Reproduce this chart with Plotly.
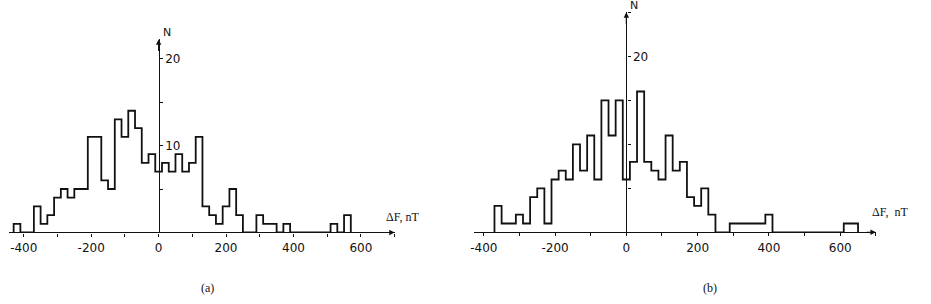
import plotly.graph_objects as go

# ---------------- data ----------------
bin_width = 20  # nT

# panel (a): bin centres (nT) and counts N
a_centers = [-420, -400, -380, -360, -340, -320, -300, -280, -260, -240, -220,
             -200, -180, -160, -140, -120, -100, -80, -60, -40, -20, 0,
             20, 40, 60, 80, 100, 120, 140, 160, 180, 200, 220, 240, 260,
             280, 300, 320, 340, 360, 380, 400, 420, 440, 460, 480, 500,
             520, 540, 560]
a_counts = [1, 0, 0, 3, 1, 2, 4, 5, 4, 5, 5,
            11, 11, 6, 5, 13, 11, 14, 12, 8, 9, 7,
            8, 7, 9, 7, 8, 11, 3, 2, 1, 3, 5, 2, 0,
            0, 2, 1, 1, 0, 1, 0, 0, 0, 0, 0, 0,
            1, 0, 2]

# panel (b)
b_centers = [-360, -340, -320, -300, -280, -260, -240, -220, -200, -180, -160,
             -140, -120, -100, -80, -60, -40, -20, 0, 20, 40, 60, 80, 100,
             120, 140, 160, 180, 200, 220, 240, 260, 280, 300, 320, 340, 360,
             380, 400, 420, 440, 460, 480, 500, 520, 540, 560, 580, 600,
             620, 640]
b_counts = [3, 1, 1, 2, 1, 4, 5, 1, 6, 7, 6,
            10, 7, 11, 6, 15, 11, 15, 6, 8, 16, 8, 7, 6,
            11, 7, 8, 4, 3, 5, 2, 0, 0, 1, 1, 1, 1,
            1, 2, 0, 0, 0, 0, 0, 0, 0, 0, 0, 0,
            1, 1]

x_tick_vals = [-400, -200, 0, 200, 400, 600]
x_tick_text = ["-400", "-200", "0", "200", "400", "600"]
a_y_tick_vals = [10, 20]
a_y_tick_text = ["10", "20"]
b_y_tick_vals = [20]
b_y_tick_text = ["20"]
x_label_a = "ΔF, nT"
x_label_b = "ΔF,  nT"
y_label = "N"
captions = ["(a)", "(b)"]

# ---------------- layout geometry ----------------
W, H = 931, 304
a_xrange = [-445, 700]
a_yrange = [0, 22.2]
b_xrange = [-428, 700]
b_yrange = [0, 25]
a_xdom = [0.00494, 0.4214]
a_ydom = [0.2352, 0.8704]
b_xdom = [0.5068, 0.9405]
b_ydom = [0.2359, 0.9595]

INK = "#111111"
SANS = "DejaVu Sans"
SERIF = "Liberation Serif"


def step_outline(centers, counts, width):
    edges = [c - width / 2 for c in centers]
    xs = [edges[0]] + edges + [centers[-1] + width / 2]
    ys = [0] + list(counts) + [0]
    return xs, ys


def zero_position(rng, dom):
    return dom[0] + (0 - rng[0]) / (rng[1] - rng[0]) * (dom[1] - dom[0])


fig = go.Figure()
for (cen, cnt, xa, ya) in [(a_centers, a_counts, "x", "y"),
                           (b_centers, b_counts, "x2", "y2")]:
    xs, ys = step_outline(cen, cnt, bin_width)
    fig.add_trace(go.Scatter(x=xs, y=ys, mode="lines", line_shape="hv",
                             line=dict(color=INK, width=1.8),
                             xaxis=xa, yaxis=ya, showlegend=False,
                             hoverinfo="skip"))


def xaxis_cfg(rng, dom, anchor):
    return dict(domain=dom, range=rng, anchor=anchor, showgrid=False,
                zeroline=False, showline=True, linecolor=INK, linewidth=1.3,
                tickmode="array", tickvals=x_tick_vals, ticktext=x_tick_text,
                ticks="outside", ticklen=3, tickwidth=1.3, tickcolor=INK,
                minor=dict(dtick=100, tick0=0, ticks="outside", ticklen=3,
                           tickwidth=1.3, tickcolor=INK),
                tickfont=dict(family=SANS, size=12, color=INK),
                ticklabelstandoff=1, fixedrange=True)


def yaxis_cfg(rng, dom, pos, tv, tt):
    return dict(domain=dom, range=rng, anchor="free", position=pos,
                side="right", showgrid=False, zeroline=False, showline=True,
                linecolor=INK, linewidth=1.3, tickmode="array", tickvals=tv,
                ticktext=tt, ticks="outside", ticklen=3, tickwidth=1.3,
                tickcolor=INK,
                minor=dict(dtick=5, tick0=0, ticks="outside", ticklen=3,
                           tickwidth=1.3, tickcolor=INK),
                tickfont=dict(family=SANS, size=12, color=INK),
                ticklabelstandoff=0, fixedrange=True)


fig.update_layout(
    width=W, height=H, margin=dict(l=0, r=0, t=0, b=0),
    paper_bgcolor="white", plot_bgcolor="white", showlegend=False,
    xaxis=xaxis_cfg(a_xrange, a_xdom, "y"),
    yaxis=yaxis_cfg(a_yrange, a_ydom, zero_position(a_xrange, a_xdom),
                    a_y_tick_vals, a_y_tick_text),
    xaxis2=xaxis_cfg(b_xrange, b_xdom, "y2"),
    yaxis2=yaxis_cfg(b_yrange, b_ydom, zero_position(b_xrange, b_xdom),
                     b_y_tick_vals, b_y_tick_text),
)

ann = []
for xr, yr, xrng, yrng, xlab, lab_x, lab_shift in [
        ("x", "y", a_xrange, a_yrange, x_label_a, 668, 15),
        ("x2", "y2", b_xrange, b_yrange, x_label_b, 684, 20)]:
    # arrow heads at axis ends
    ann.append(dict(x=xrng[1], y=0, ax=xrng[1] - 30, ay=0, xref=xr, yref=yr,
                    axref=xr, ayref=yr, text="", showarrow=True, arrowhead=2,
                    arrowsize=0.9, arrowwidth=1.2, arrowcolor=INK))
    ann.append(dict(x=0, y=yrng[1], ax=0, ay=yrng[1] - 1.5, xref=xr, yref=yr,
                    axref=xr, ayref=yr, text="", showarrow=True, arrowhead=2,
                    arrowsize=0.9, arrowwidth=1.2, arrowcolor=INK))
    # N label
    ann.append(dict(x=0, y=yrng[1], xref=xr, yref=yr, text=y_label,
                    showarrow=False, xanchor="left", yanchor="bottom",
                    xshift=2, yshift=-2,
                    font=dict(family=SANS, size=11, color=INK)))
    # Delta F label
    ann.append(dict(x=lab_x, y=0, xref=xr, yref=yr, text=xlab,
                    showarrow=False, xanchor="left", yanchor="middle",
                    yshift=lab_shift,
                    font=dict(family=SERIF, size=12, color=INK)))

for cap, cx in zip(captions, [204 / W, 709 / W]):
    ann.append(dict(x=cx, y=1 - 288 / H, xref="paper", yref="paper",
                    text=cap, showarrow=False, xanchor="center",
                    yanchor="middle",
                    font=dict(family=SERIF, size=12, color=INK)))

fig.update_layout(annotations=ann)
fig.write_html("out.html")
